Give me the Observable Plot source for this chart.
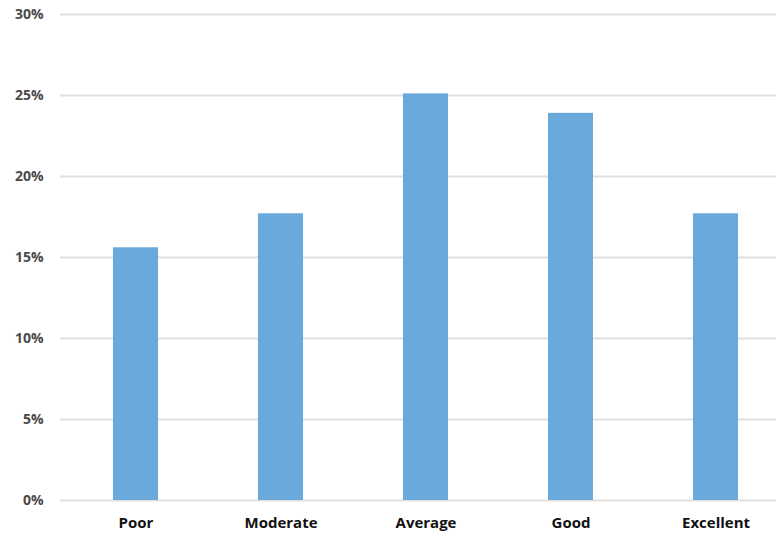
<!DOCTYPE html>
<html>
<head>
<meta charset="utf-8">
<script src="https://cdn.jsdelivr.net/npm/d3@7"></script>
<script src="https://cdn.jsdelivr.net/npm/@observablehq/plot@0.6"></script>
<style>
  html, body { margin: 0; padding: 0; background: #fff; }
  #chart svg { display: block; }
</style>
</head>
<body>
<div id="chart"></div>
<script>
const categories = ["Poor", "Moderate", "Average", "Good", "Excellent"];
const shares = [15.6, 17.7, 25.1, 23.9, 17.7];
const yTicks = [0, 5, 10, 15, 20, 25, 30];

const data = categories.map((c, i) => ({category: c, share: shares[i]}));

const chart = Plot.plot({
  width: 776,
  height: 538,
  marginLeft: 60,
  marginRight: 0,
  marginTop: 14,
  marginBottom: 38,
  style: {fontFamily: "'Open Sans', sans-serif", background: "#fff"},
  x: {domain: categories, range: [61, 789], paddingInner: 0.69, paddingOuter: 0.345, label: null},
  y: {domain: [0, 30], label: null},
  marks: [
    Plot.ruleY(yTicks, {stroke: "#e3dede", strokeWidth: 2}),
    Plot.barY(data, {x: "category", y: "share", fill: "#6aa9dc"}),
    Plot.axisY(yTicks, {tickSize: 0, tickPadding: 17, tickFormat: d => d + "%", fontSize: 14, fontWeight: "bold", fill: "#4a4a4a"}),
    Plot.axisX({tickSize: 0, tickPadding: 17, fontSize: 15, fontWeight: "bold", fill: "#111"})
  ]
});
document.getElementById("chart").append(chart);
</script>
</body>
</html>
